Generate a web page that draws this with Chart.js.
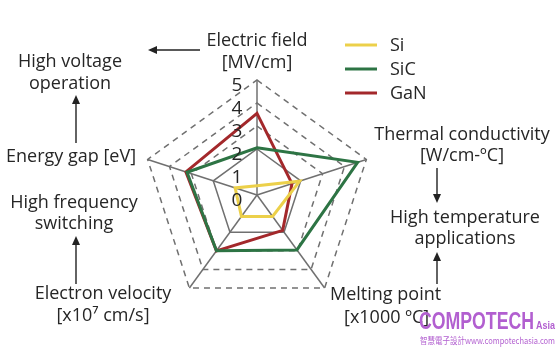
<!DOCTYPE html>
<html>
<head>
<meta charset="utf-8">
<script src="https://cdn.jsdelivr.net/npm/chart.js@4.4.0/dist/chart.umd.min.js"></script>
<style>
  html, body { margin: 0; padding: 0; background: #fff; }
  #wrap { position: relative; width: 560px; height: 351px; }
</style>
</head>
<body>
<div id="wrap"><canvas id="radar" width="560" height="351"></canvas></div>
<script>
// axes (clockwise from top)
const axisNames = ['Electric field', 'Thermal conductivity', 'Melting point', 'Electron velocity', 'Energy gap'];
const tickValues = [0, 1, 2, 3, 4, 5];

// values, 0-5 scale
const siValues = [0.4, 1.95, 1.15, 1.15, 1.0];
const sicValues = [2.05, 4.6, 2.95, 3.0, 3.2];
const ganValues = [3.55, 1.6, 1.9, 3.0, 3.25];

const seriesNames = ['Si', 'SiC', 'GaN'];
const seriesColors = ['#ecd04a', '#2d7444', '#a3282b'];

const textColor = '#262626';
const font = (size) => size + 'px "Open Sans", Lato, sans-serif';

function arrow(ctx, x1, y1, x2, y2) {
    // line from (x1,y1) with a head at (x2,y2)
    const ang = Math.atan2(y2 - y1, x2 - x1);
    ctx.save();
    ctx.strokeStyle = '#222';
    ctx.fillStyle = '#222';
    ctx.lineWidth = 1.4;
    ctx.beginPath();
    ctx.moveTo(x1, y1);
    ctx.lineTo(x2 - 6 * Math.cos(ang), y2 - 6 * Math.sin(ang));
    ctx.stroke();
    ctx.translate(x2, y2);
    ctx.rotate(ang);
    ctx.beginPath();
    ctx.moveTo(0, 0);
    ctx.lineTo(-9, -4);
    ctx.lineTo(-9, 4);
    ctx.closePath();
    ctx.fill();
    ctx.restore();
}

// squeeze a string into a given width (condensed watermark lettering)
function fitText(ctx, text, x, y, width) {
    const w = ctx.measureText(text).width;
    ctx.save();
    ctx.translate(x, y);
    ctx.scale(width / w, 1);
    ctx.fillText(text, 0, 0);
    ctx.restore();
}

const annotations = {
    id: 'annotations',
    afterDraw(chart) {
        const ctx = chart.ctx;
        const scale = chart.scales.r;
        ctx.save();

        // tick numbers to the left of the vertical axis
        ctx.fillStyle = textColor;
        ctx.font = font(19);
        ctx.textAlign = 'center';
        ctx.textBaseline = 'middle';
        tickValues.forEach(v => {
            const y = scale.yCenter - scale.getDistanceFromCenterForValue(v) + 6;
            ctx.fillText(String(v), scale.xCenter - 20, y);
        });

        // axis names and notes
        ctx.font = font(18);
        ctx.textAlign = 'center';
        ctx.fillText(axisNames[0], 257, 41);
        ctx.fillText('[MV/cm]', 257, 63);
        ctx.fillText('High voltage', 70, 62);
        ctx.fillText('operation', 70, 84);
        ctx.textAlign = 'left';
        ctx.fillText(axisNames[4] + ' [eV]', 6, 157);
        ctx.textAlign = 'center';
        ctx.fillText('High frequency', 74, 203);
        ctx.fillText('switching', 74, 224);
        ctx.fillText(axisNames[3], 103, 294);
        ctx.fillText('[x10\u2077 cm/s]', 103, 316);
        ctx.fillText(axisNames[1], 462, 135);
        ctx.fillText('[W/cm-\u00baC]', 462, 156);
        ctx.fillText('High temperature', 465, 218);
        ctx.fillText('applications', 465, 239);
        ctx.textAlign = 'left';
        ctx.fillText(axisNames[2], 330, 295);
        ctx.fillText('[x1000 \u00baC]', 344, 318);

        arrow(ctx, 200, 50, 148, 50);
        arrow(ctx, 76, 143, 76, 95);
        arrow(ctx, 76, 284, 76, 236);
        arrow(ctx, 437, 168, 437, 203);
        arrow(ctx, 437, 284, 437, 252);

        // legend from the datasets
        chart.data.datasets.forEach((ds, i) => {
            const y = 45 + i * 24;
            ctx.strokeStyle = ds.borderColor;
            ctx.lineWidth = 3;
            ctx.beginPath();
            ctx.moveTo(345, y);
            ctx.lineTo(377, y);
            ctx.stroke();
            ctx.fillStyle = textColor;
            ctx.font = font(18);
            ctx.textAlign = 'left';
            ctx.fillText(ds.label, 390, y + 1);
        });

        // watermark
        ctx.fillStyle = '#b25fd0';
        ctx.textAlign = 'left';
        ctx.textBaseline = 'alphabetic';
        ctx.font = 'bold 24px "Liberation Sans", sans-serif';
        fitText(ctx, 'COMPOTECH', 419, 329, 115);
        ctx.font = 'bold 11px "Liberation Sans", sans-serif';
        fitText(ctx, 'Asia', 536, 329, 19);
        ctx.font = '9px "Noto Sans CJK TC", sans-serif';
        fitText(ctx, '\u667a\u6167\u96fb\u5b50\u8a2d\u8a08www.compotechasia.com', 420, 344, 135);
        ctx.restore();
    }
};

new Chart(document.getElementById('radar'), {
    type: 'radar',
    data: {
        labels: axisNames,
        datasets: [
            { label: seriesNames[0], data: siValues, borderColor: seriesColors[0] },
            { label: seriesNames[1], data: sicValues, borderColor: seriesColors[1] },
            { label: seriesNames[2], data: ganValues, borderColor: seriesColors[2] }
        ]
    },
    options: {
        responsive: false,
        animation: false,
        layout: { padding: { left: 142, right: 188, top: 80, bottom: 41 } },
        elements: {
            line: { borderWidth: 3, fill: false, tension: 0, borderJoinStyle: 'miter' },
            point: { radius: 0, hoverRadius: 0 }
        },
        plugins: {
            legend: { display: false },
            tooltip: { enabled: false }
        },
        scales: {
            r: {
                min: 0,
                max: 5,
                ticks: { display: false, stepSize: 1 },
                pointLabels: { display: false },
                angleLines: { color: '#707070', lineWidth: 1.5 },
                grid: {
                    color: ctx => (ctx.index === 1 ? 'rgba(0,0,0,0)' : '#707070'),
                    lineWidth: 1.5
                },
                border: {
                    dash: ctx => (ctx.index >= 3 ? [6, 5] : [])
                }
            }
        }
    },
    plugins: [annotations]
});
</script>
</body>
</html>
